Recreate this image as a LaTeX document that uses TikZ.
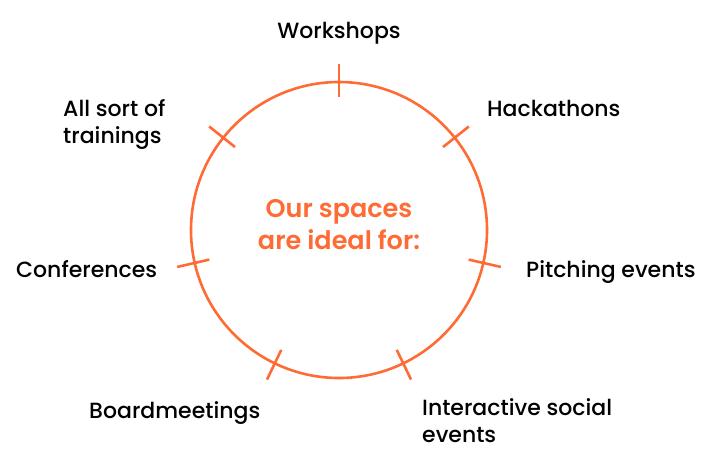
\documentclass[tikz,border=0pt]{standalone}
\usepackage{fontspec}
\setmainfont{Poppins}[UprightFont=* Medium]
\newfontfamily\titlefont{Poppins}[UprightFont=* SemiBold]
\definecolor{brand}{RGB}{255,107,53}
\begin{document}
\begin{tikzpicture}[x=1pt,y=-1pt,
  ring/.style={draw=brand,line width=2.6pt},
  tickmark/.style={draw=brand,line width=2.6pt},
  lbl/.style={font=\fontsize{22}{27}\selectfont,text=black,inner sep=0pt,anchor=base west,align=left},
  ctr/.style={font=\titlefont\fontsize{25.5}{32}\selectfont,text=brand,inner sep=0pt,align=center,anchor=base}]
\useasboundingbox (0,0) rectangle (714,448);
\coordinate (c) at (339,230);
\draw[ring] (c) circle (148pt);
\foreach \k in {0,...,6}{
  \pgfmathsetmacro{\a}{90-\k*360/7}
  \draw[tickmark] ([shift={(\a:133pt)}]c) -- ([shift={(\a:166pt)}]c);
}
\node[lbl,anchor=base] (ws) at (339,38) {Workshops};
\node[lbl] (hk) at (487,116) {Hackathons};
\node[lbl] (pe) at (526,277) {Pitching events};
\node[lbl] (ise) at (422,442) {Interactive social\\events};
\node[lbl] (bm) at (89,418) {Boardmeetings};
\node[lbl] (cf) at (16,277) {Conferences};
\node[lbl] (tr) at (63,143) {All sort of\\trainings};
\node[ctr] (title) at (339,249) {Our spaces\\are ideal for:};
\end{tikzpicture}
\end{document}
